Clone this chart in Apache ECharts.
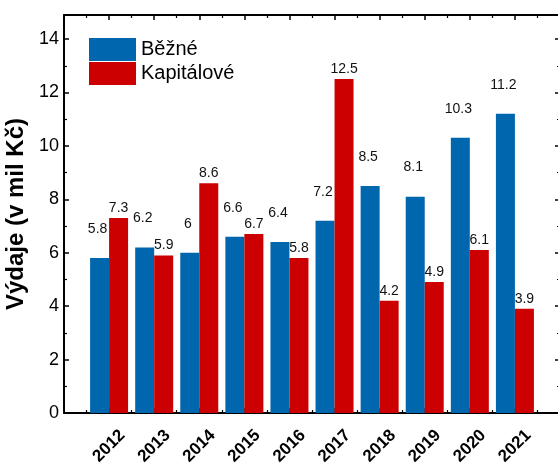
<!DOCTYPE html>
<html>
<head>
<meta charset="utf-8">
<script src="https://cdn.jsdelivr.net/npm/echarts@6/dist/echarts.min.js"></script>
<style>
  html, body { margin: 0; padding: 0; background: #fff; }
  #chart { width: 558px; height: 466px; }
</style>
</head>
<body>
<div id="chart"></div>
<script>
// data
const years = [2012, 2013, 2014, 2015, 2016, 2017, 2018, 2019, 2020, 2021]
const bezne = [5.8, 6.2, 6, 6.6, 6.4, 7.2, 8.5, 8.1, 10.3, 11.2]
const kapitalove = [7.3, 5.9, 8.6, 6.7, 5.8, 12.5, 4.2, 4.9, 6.1, 3.9]
const seriesNames = ['Běžné', 'Kapitálové']

const font = 'Liberation Sans, Arial, sans-serif'
const black = '#000'

const chart = echarts.init(document.getElementById('chart'))

const tickStyle = {
  axisLine: { show: true, onZero: false, lineStyle: { color: black, width: 2 } },
  axisTick: { show: true, inside: true, length: 5, lineStyle: { color: black, width: 1.5 } },
  minorTick: { show: true, splitNumber: 2, length: 3, lineStyle: { color: black, width: 1.2 } },
  splitLine: { show: false },
  minorSplitLine: { show: false }
}

const option = {
  animation: false,
  textStyle: { fontFamily: font },
  grid: { left: 64, right: -2, top: 15, bottom: 53, outerBoundsMode: 'none', containLabel: false },
  legend: {
    data: seriesNames,
    orient: 'vertical',
    left: 89,
    top: 38,
    padding: 0,
    icon: 'rect',
    itemWidth: 47,
    itemHeight: 23,
    itemGap: 1,
    textStyle: { fontSize: 20, color: black, fontFamily: font }
  },
  xAxis: [
    {
      type: 'value', min: 2011, max: 2022, interval: 1, position: 'bottom',
      ...tickStyle,
      axisLabel: {
        rotate: 45, align: 'center', verticalAlign: 'middle', margin: 33,
        fontSize: 17, fontWeight: 'bold', color: black, fontFamily: font,
        showMinLabel: false, showMaxLabel: false,
        formatter: v => String(v)
      }
    },
    {
      type: 'value', min: 2011, max: 2022, interval: 1, position: 'top',
      ...tickStyle,
      axisLabel: { show: false }
    }
  ],
  yAxis: [
    {
      type: 'value', min: 0, max: 14.9, interval: 2, position: 'left',
      ...tickStyle,
      name: 'Výdaje (v mil Kč)',
      nameLocation: 'middle',
      nameGap: 31,
      nameTextStyle: { fontSize: 24, fontWeight: 'bold', color: black, fontFamily: font },
      axisLabel: { fontSize: 18, color: black, margin: 5, showMaxLabel: false, fontFamily: font }
    },
    {
      type: 'value', min: 0, max: 14.9, interval: 2, position: 'right',
      ...tickStyle,
      axisLabel: { show: false }
    }
  ],
  series: [
    {
      name: seriesNames[0],
      type: 'bar',
      barWidth: 19,
      barGap: '0%',
      itemStyle: { color: '#0066AD' },
      data: years.map((y, i) => [y, bezne[i]]),
      label: {
        show: true, position: 'top', distance: 22, offset: [-2, 0],
        fontSize: 14, color: '#111', fontFamily: font,
        formatter: p => String(p.value[1])
      }
    },
    {
      name: seriesNames[1],
      type: 'bar',
      barWidth: 19,
      barGap: '0%',
      itemStyle: { color: '#CC0000' },
      data: years.map((y, i) => [y, kapitalove[i]]),
      label: {
        show: true, position: 'top', distance: 3,
        fontSize: 14, color: '#111', fontFamily: font,
        formatter: p => String(p.value[1])
      }
    }
  ]
}

chart.setOption(option)
</script>
</body>
</html>
